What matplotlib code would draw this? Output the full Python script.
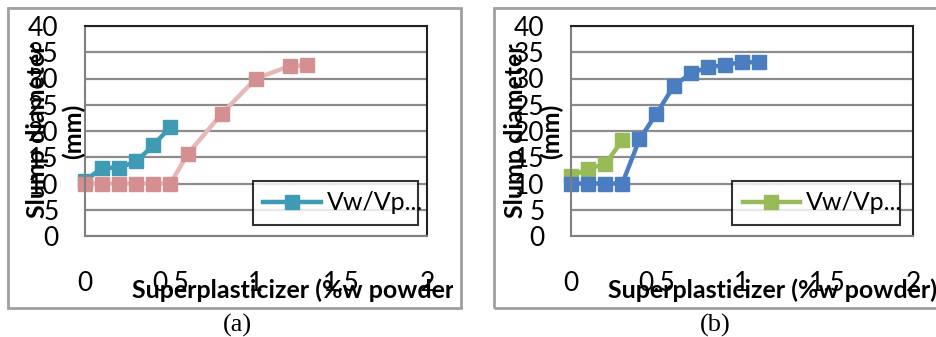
import matplotlib
matplotlib.use("Agg")
import matplotlib.pyplot as plt
from matplotlib.patches import Rectangle

# panel (a)
a_teal_x = [0, 0.1, 0.2, 0.3, 0.4, 0.5]
a_teal_y = [10.5, 13.0, 13.0, 14.2, 17.3, 20.8]
a_pink_x = [0, 0.1, 0.2, 0.3, 0.4, 0.5, 0.6, 0.8, 1.0, 1.2, 1.3]
a_pink_y = [10, 10, 10, 10, 10, 10, 15.6, 23.3, 30.0, 32.4, 32.5]

# panel (b)
b_green_x = [0, 0.1, 0.2, 0.3]
b_green_y = [11.4, 12.8, 13.7, 18.2]
b_blue_x = [0, 0.1, 0.2, 0.3, 0.4, 0.5, 0.6, 0.7, 0.8, 0.9, 1.0, 1.1]
b_blue_y = [10, 10, 10, 10, 18.4, 23.3, 28.5, 31.0, 32.1, 32.6, 33.1, 33.1]

xticks = [0, 0.5, 1, 1.5, 2]
xtick_labels = ["0", "0.5", "1", "1.5", "2"]
yticks = [0, 5, 10, 15, 20, 25, 30, 35, 40]
legend_label = "Vw/Vp..."
xlabel = "Superplasticizer (%w powder)"
ylabel1 = "Slump diameter"
ylabel2 = "(mm)"

W, H = 937, 337
fig = plt.figure(figsize=(W / 100, H / 100), dpi=100)
plt.rcParams['font.family'] = ['Lato', 'DejaVu Sans']


def px(x0, y0, x1, y1):
    # pixel box (top-left origin) -> figure fraction rect
    return [x0 / W, 1 - y1 / H, (x1 - x0) / W, (y1 - y0) / H]


def panel(frame, axbox, s1, s2, legbox, xlab_x, xlab_end, ylab_x, cap, cap_x):
    rect = Rectangle((frame[0] / W, 1 - frame[3] / H), (frame[2] - frame[0]) / W,
                     (frame[3] - frame[1]) / H, transform=fig.transFigure,
                     fill=False, edgecolor='#a0a0a0', lw=2, zorder=0)
    fig.patches.append(rect)
    # text area of the chart ends a little inside the frame
    clip = Rectangle((frame[0] / W, 1 - frame[3] / H), (xlab_end - frame[0]) / W,
                     (frame[3] - frame[1]) / H, transform=fig.transFigure,
                     visible=False)

    ax = fig.add_axes(px(*axbox))
    ax.set_xlim(0, 2)
    ax.set_ylim(0, 40)
    ax.set_yticks(yticks)
    ax.set_xticks(xticks)
    ax.set_xticklabels(xtick_labels)
    ax.tick_params(length=0, labelsize=19)
    ax.tick_params(axis='x', pad=25)
    ax.tick_params(axis='y', pad=19)
    ax.grid(axis='y', color='#8c8c8c', lw=1.6)
    ax.set_axisbelow(True)
    for s in ['top', 'right']:
        ax.spines[s].set_color('#222222')
        ax.spines[s].set_linewidth(1.5)
    for s in ['left', 'bottom']:
        ax.spines[s].set_color('#808080')
        ax.spines[s].set_linewidth(1.5)

    handles = []
    for x, y, lc, mc in [s1, s2]:
        h, = ax.plot(x, y, color=lc, lw=3.2, marker='s', ms=10,
                     mfc=mc, mec=mc, clip_on=False)
        handles.append(h)

    lx0, ly0, lx1, ly1 = legbox
    bx = (lx0 - axbox[0]) / (axbox[2] - axbox[0])
    by = (axbox[3] - ly1) / (axbox[3] - axbox[1])
    bw = (lx1 - lx0) / (axbox[2] - axbox[0])
    bh = (ly1 - ly0) / (axbox[3] - axbox[1])
    leg = ax.legend([handles[0]], [legend_label], loc='lower left',
                    bbox_to_anchor=(bx, by, bw, bh), mode='expand',
                    borderaxespad=0, fancybox=False, fontsize=18,
                    handlelength=2.3, handletextpad=0.25, borderpad=0.42)
    leg.get_frame().set_edgecolor('black')
    leg.get_frame().set_linewidth(1.5)

    t = fig.text(xlab_x / W, 1 - 290 / H, xlabel, fontsize=18, fontweight='bold',
                 ha='left', va='center')
    t.set_clip_path(clip)
    fig.text(ylab_x / W, 1 - 131 / H, ylabel1, fontsize=18, fontweight='bold',
             rotation=90, ha='center', va='center')
    fig.text((ylab_x + 35) / W, 1 - 131 / H, ylabel2, fontsize=18, fontweight='bold',
             rotation=90, ha='center', va='center')
    fig.text(cap_x / W, 1 - 325 / H, cap, fontsize=19, family='Liberation Serif',
             ha='center', va='center')


panel((8, 8, 461, 308), (85, 26, 427, 236),
      (a_teal_x, a_teal_y, '#3e9bb3', '#3e9bb3'),
      (a_pink_x, a_pink_y, '#e6b8b7', '#d48f90'),
      (253, 176, 418, 225), 132, 453, 38, "(a)", 237)

panel((494, 8, 945, 308), (571, 26, 913, 236),
      (b_green_x, b_green_y, '#97bb57', '#97bb57'),
      (b_blue_x, b_blue_y, '#4a7ec0', '#4a7ec0'),
      (732, 180, 900, 225), 608, 945, 516, "(b)", 715)

fig.savefig("out.png", dpi=100)
